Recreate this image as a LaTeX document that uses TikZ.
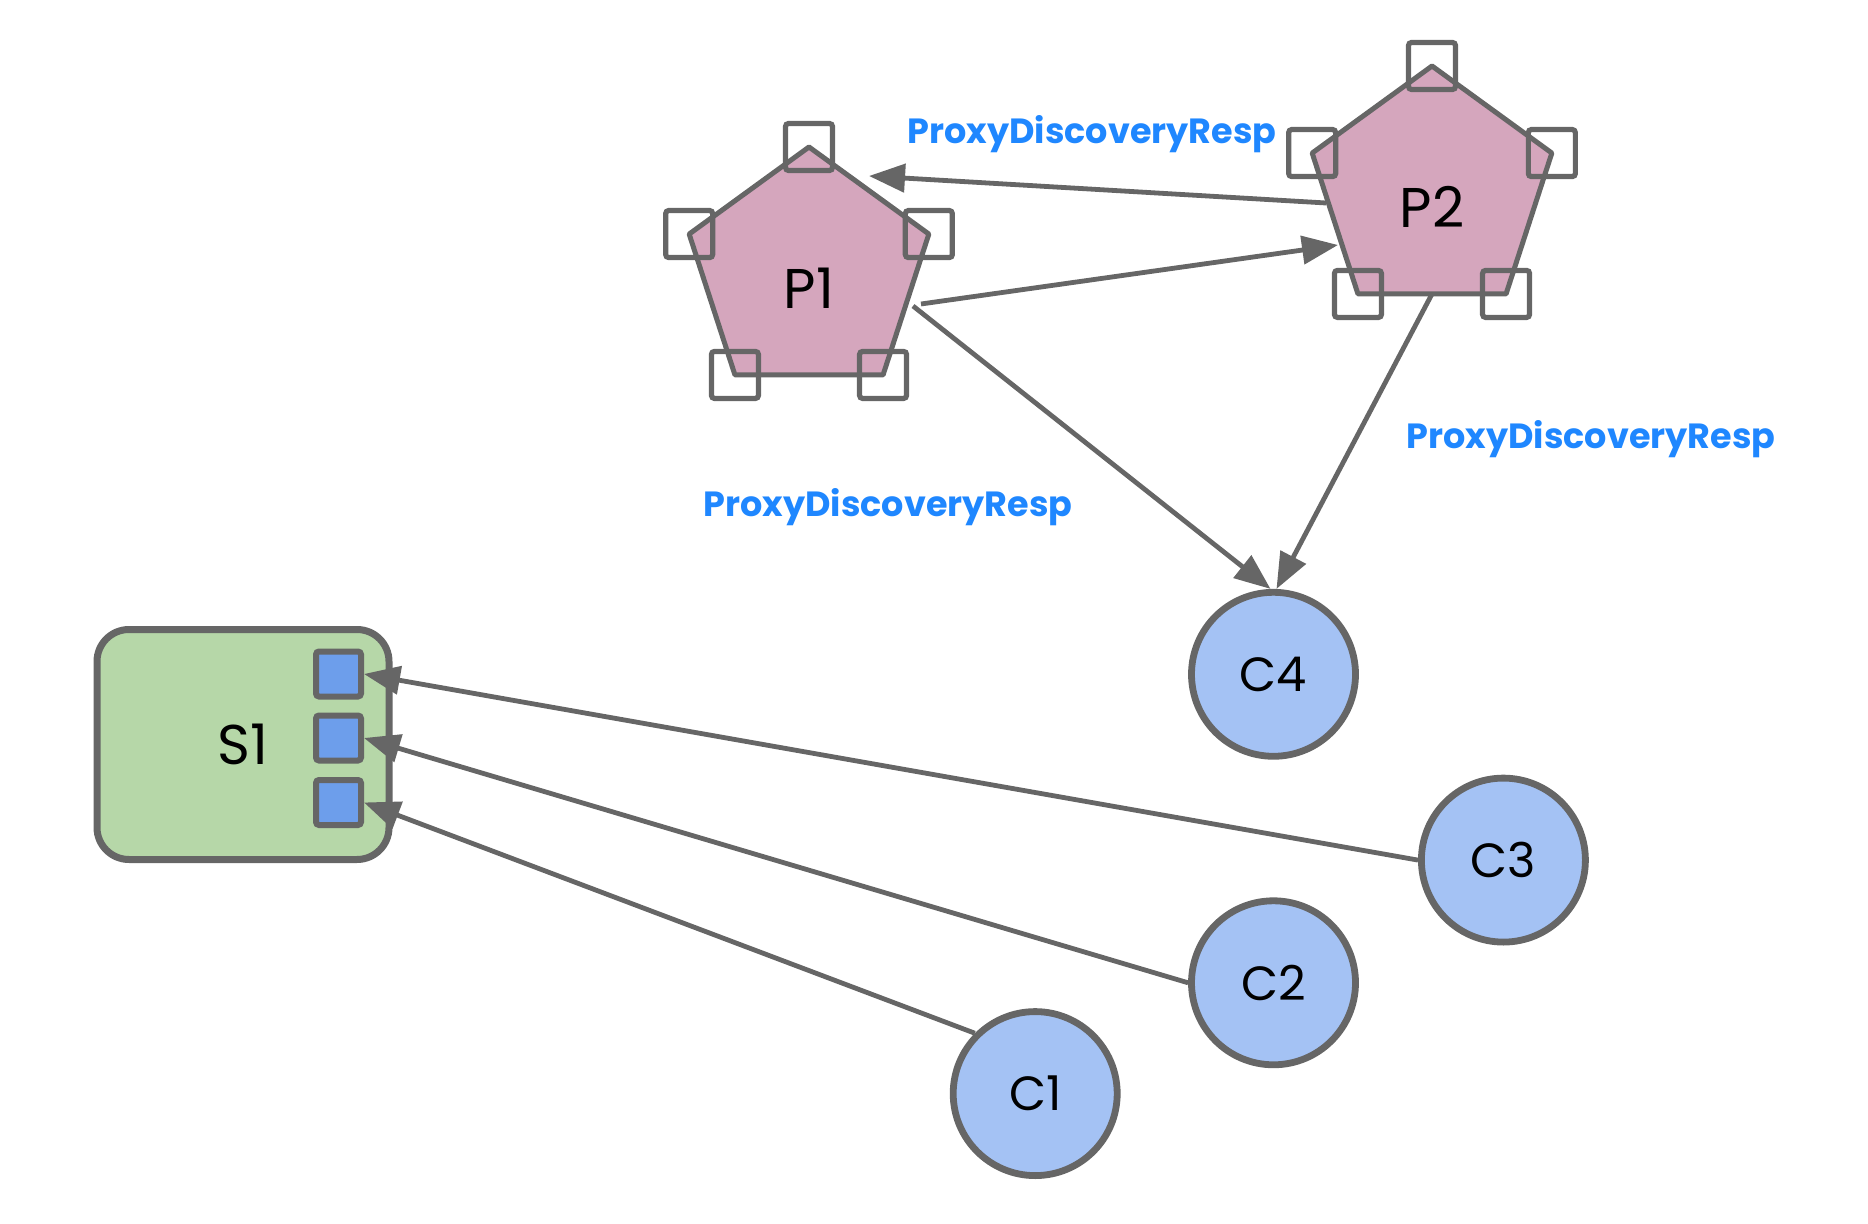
\documentclass[tikz,border=0pt]{standalone}
\usepackage{fontspec}
\setmainfont{Poppins}
\usetikzlibrary{shapes.geometric}
\usetikzlibrary{arrows.meta}
\usetikzlibrary{calc}
\definecolor{linegray}{HTML}{666666}
\definecolor{proxypink}{HTML}{D5A6BD}
\definecolor{clientblue}{HTML}{A4C2F4}
\definecolor{servergreen}{HTML}{B6D7A8}
\definecolor{portblue}{HTML}{6D9EEB}
\definecolor{msgblue}{HTML}{1F87FF}

\begin{document}
\begin{tikzpicture}[x=0.5pt,y=-0.5pt,
  proxy/.style={regular polygon, regular polygon sides=5, draw=linegray, fill=proxypink,
    line width=2.5pt, line join=round, minimum size=126pt, inner sep=0pt, outer sep=0pt},
  cornerbox/.style={draw=linegray, line width=2.6pt, rounded corners=1.5pt,
    minimum size=23.5pt, inner sep=0pt},
  portbox/.style={cornerbox, fill=portblue, line width=3pt, minimum size=22.5pt},
  client/.style={circle, draw=linegray, fill=clientblue, line width=3.4pt,
    minimum size=82pt, inner sep=0pt, font=\fontsize{24}{28}\selectfont},
  server/.style={draw=linegray, fill=servergreen, line width=3.5pt, rounded corners=16pt,
    minimum width=146pt, minimum height=115pt, inner sep=0pt, font=\fontsize{28}{30}\selectfont},
  msg/.style={draw=linegray, line width=2.4pt, -{Triangle[length=18pt,width=14pt]}},
  msglabel/.style={text=msgblue, font=\fontsize{17.5}{20}\selectfont\bfseries, anchor=base, inner sep=0pt}]
  \useasboundingbox (0,0) rectangle (1868,1224);

  % proxies
  \node[proxy, label={[name=P1t, font=\fontsize{28}{30}\selectfont, yshift=-7.5pt]center:P1}] (P1) at (809,273) {};
  \node[proxy, label={[name=P2t, font=\fontsize{28}{30}\selectfont, yshift=-7.5pt]center:P2}] (P2) at (1432,192) {};
  \foreach \k in {1,...,5}{
    \node[cornerbox] (P1c\k) at (P1.corner \k) {};
    \node[cornerbox] (P2c\k) at (P2.corner \k) {};
  }

  % server and its ports
  \node[server] (S1) at (243,744.5) {S1};
  \node[portbox] (S1a) at (338.5,674) {};
  \node[portbox] (S1b) at (338.5,738) {};
  \node[portbox] (S1c) at (338.5,802.5) {};

  % clients
  \node[client] (C4) at (1273.5,674.3) {C4};
  \node[client] (C3) at (1503.4,860.1) {C3};
  \node[client] (C2) at (1273.5,982.8) {C2};
  \node[client] (C1) at (1035.2,1093.6) {C1};

  % messages
  \draw[msg] ($(P2)+(-106,11)$) -- ($(P1)+(60,-97)$);
  \draw[msg] ($(P1)+(112,31)$) -- ($(P2)+(-94,53)$);
  \draw[msg] ($(P1)+(104,33)$) -- ([xshift=-1.5pt]C4.north);
  \draw[msg] (P2.south) -- ([xshift=1.5pt]C4.north);
  \draw[msg] (C3.west) -- (S1a.east);
  \draw[msg] (C2.west) -- (S1b.east);
  \draw[msg] (C1.135) -- (S1c.east);

  \node[msglabel] (m1) at (1092,144) {ProxyDiscoveryResp};
  \node[msglabel] (m2) at (888,517) {ProxyDiscoveryResp};
  \node[msglabel] (m3) at (1591,449) {ProxyDiscoveryResp};
\end{tikzpicture}
\end{document}
